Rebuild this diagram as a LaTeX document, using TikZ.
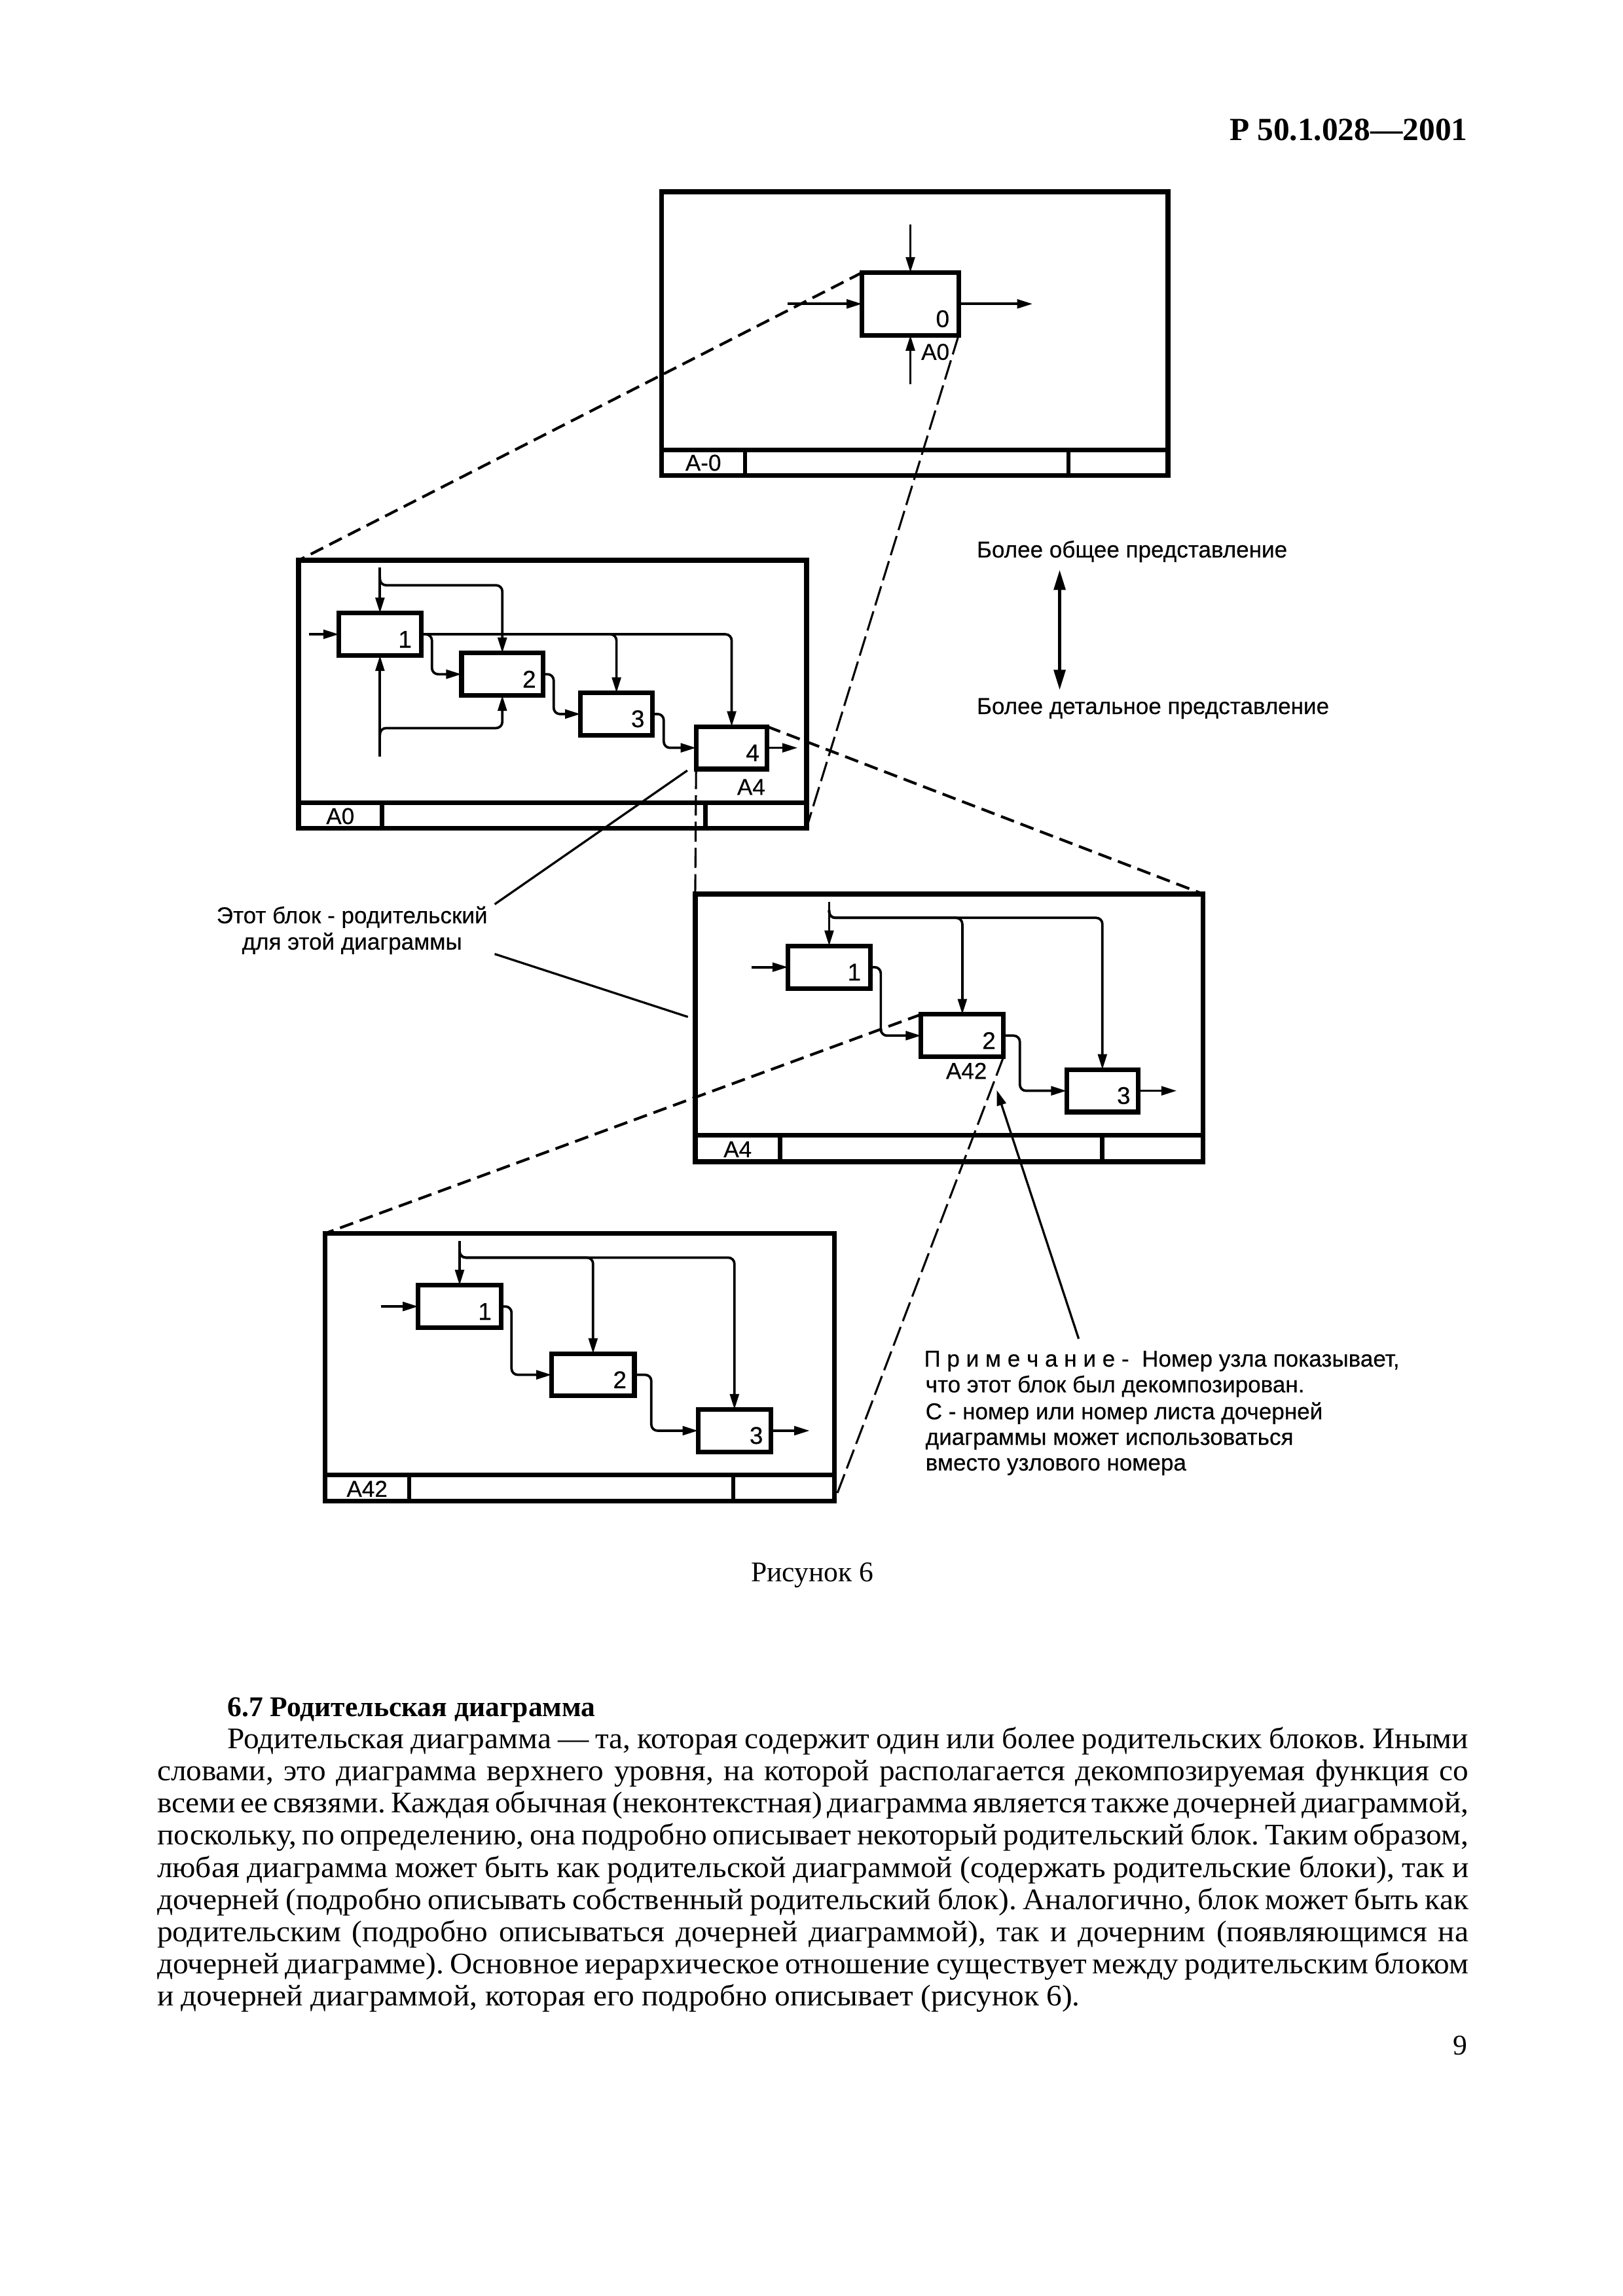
\documentclass[tikz,border=0pt]{standalone}
\usepackage{fontspec}
\setmainfont{Liberation Serif}
\setsansfont[FakeBold=0.4]{Liberation Sans}
\newfontfamily\bodyfont[FakeStretch=1.036]{Liberation Serif}
\usetikzlibrary{arrows.meta}
\newdimen\uu
\uu=0.18938mm
\begin{document}
\begin{tikzpicture}[x=0.18938mm,y=-0.18938mm,
 frm/.style={draw, line width=1.8pt, rectangle, inner sep=0, outer sep=0},
 strip/.style={line width=1.6pt},
 blk/.style={draw, line width=1.7pt, rectangle, inner sep=0, outer sep=0, minimum height=29\uu},
 thinln/.style={line width=0.9pt, rounded corners=0.8mm},
 arr/.style={thinln, -{Triangle[length=2.0mm,width=1.15mm]}},
 dshL/.style={line width=1.0pt, dash pattern=on 1.8mm off 0.9mm},
 dshR/.style={line width=0.75pt, dash pattern=on 2.6mm off 0.8mm},
 lead/.style={line width=0.8pt},
 dig/.style={font=\sffamily\fontsize{8.9}{10}\selectfont, inner sep=0},
 lab/.style={font=\sffamily\fontsize{8.45}{10}\selectfont, inner sep=0},
 sanstxt/.style={font=\sffamily\fontsize{8.45}{9.6}\selectfont, inner sep=0},
 ser/.style={font=\fontsize{10.5}{13}\selectfont, inner sep=0}
]
\useasboundingbox (0,0) rectangle (1108.9,1569.2);
\fill[white] (0,0) rectangle (1108.9,1569.2);

% header
\node[anchor=base east, inner sep=0, font=\bfseries\fontsize{11.9}{14}\selectfont] (hdr) at (1003,96) {Р 50.1.028—2001};

% ---------------- A-0 ----------------
\node[frm, minimum width=346\uu, minimum height=194\uu] (F0) at (625,228) {};
\draw[strip] (452,307.5) -- (798,307.5) (509,307.5) -- (509,325) (730,307.5) -- (730,325);
\node[lab] (F0l) at (480.5,316.3) {A-0};
\node[blk, minimum width=66\uu, minimum height=42.8\uu] (b0) at (622,207.7) {};
\node[dig, anchor=south east] (b0n) at ([shift={(-6,-5)}]b0.south east) {0};
\node[lab, anchor=north east] (b0r) at ([shift={(-6,5.5)}]b0.south east) {A0};
\coordinate (a0in) at (538,207.7);
\coordinate (a0out) at (705.5,207.7);
\coordinate (a0ctl) at (622,153.5);
\coordinate (a0mec) at (622,262.7);
\draw[arr] (a0in) -- (b0.west);
\draw[arr] (b0.east) -- (a0out);
\draw[arr] (a0ctl) -- (b0.north);
\draw[arr] (a0mec) -- (b0.south);

% ---------------- A0 ----------------
\node[frm, minimum width=347\uu, minimum height=183\uu] (F1) at (377.5,474.5) {};
\draw[strip] (204,548.5) -- (551,548.5) (261,548.5) -- (261,566) (482,548.5) -- (482,566);
\node[lab] (F1l) at (232.5,557.8) {A0};
\node[blk, minimum width=56.2\uu] (b1) at (259.6,433.5) {};
\node[blk, minimum width=55.7\uu] (b2) at (343.2,460.8) {};
\node[blk, minimum width=49.1\uu] (b3) at (421.2,488) {};
\node[blk, minimum width=48.6\uu] (b4) at (499.9,511.1) {};
\node[dig, anchor=south east] (b1n) at ([shift={(-6,-5)}]b1.south east) {1};
\node[dig, anchor=south east] (b2n) at ([shift={(-4.5,-5)}]b2.south east) {2};
\node[dig, anchor=south east] (b3n) at ([shift={(-5,-5)}]b3.south east) {3};
\node[dig, anchor=south east] (b4n) at ([shift={(-5,-5)}]b4.south east) {4};
\node[lab, anchor=north east] (b4r) at ([shift={(-1,6.5)}]b4.south east) {A4};
\coordinate (a1in) at (211.2,433.5);
\coordinate (a1ctl) at (259.6,388);
\coordinate (a1mec) at (259.6,517);
\draw[arr] (a1in) -- (b1.west);
\draw[arr] (a1ctl) -- (b1.north);
\draw[arr] (259.6,394) |- (343.2,400) -- (b2.north);
\draw[arr] (a1mec) -- (b1.south);
\draw[arr] (259.6,503) |- (343.2,497.6) -- (b2.south);
\draw[arr] (b1.east) -| (295.1,460.8) -- (b2.west);
\draw[arr] (b1.east) -| (b3.north);
\draw[arr] (b1.east) -| (b4.north);
\draw[arr] (b2.east) -| (378.3,488) -- (b3.west);
\draw[arr] (b3.east) -| (453.5,511.1) -- (b4.west);
\coordinate (a1out) at (545,511.1);
\draw[arr] (b4.east) -- (a1out);

% ---------------- A4 ----------------
\node[frm, minimum width=347\uu, minimum height=183\uu] (F2) at (648.5,702.5) {};
\draw[strip] (475,776) -- (822,776) (533,776) -- (533,794) (753,776) -- (753,794);
\node[lab] (F2l) at (504,785.5) {A4};
\node[blk, minimum width=56.3\uu] (c1) at (566.5,661) {};
\node[blk, minimum width=56.3\uu] (c2) at (657.5,707.8) {};
\node[blk, minimum width=49\uu] (c3) at (753.2,745.5) {};
\node[dig, anchor=south east] (c1n) at ([shift={(-6,-5)}]c1.south east) {1};
\node[dig, anchor=south east] (c2n) at ([shift={(-5,-5)}]c2.south east) {2};
\node[dig, anchor=south east] (c3n) at ([shift={(-5,-5)}]c3.south east) {3};
\node[lab, anchor=north east] (c2r) at ([shift={(-11,3.7)}]c2.south east) {A42};
\coordinate (a4in) at (513.3,661);
\coordinate (a4ctl) at (566.5,616.2);
\draw[arr] (a4in) -- (c1.west);
\draw[arr] (a4ctl) -- (c1.north);
\draw[arr] (566.5,622) |- (657.5,627.3) -- (c2.north);
\draw[arr] (566.5,622) |- (753.2,627.3) -- (c3.north);
\draw[arr] (c1.east) -| (601.8,707.8) -- (c2.west);
\draw[arr] (c2.east) -| (696.8,745.5) -- (c3.west);
\coordinate (a4out) at (804,745.5);
\draw[arr] (c3.east) -- (a4out);

% ---------------- A42 ----------------
\node[frm, minimum width=348\uu, minimum height=183\uu] (F3) at (396,934.5) {};
\draw[strip] (222,1008) -- (570,1008) (279.5,1008) -- (279.5,1026) (501,1008) -- (501,1026);
\node[lab] (F3l) at (250.8,1017.5) {A42};
\node[blk, minimum width=56.5\uu] (d1) at (314,892.9) {};
\node[blk, minimum width=56.5\uu] (d2) at (405.2,939.6) {};
\node[blk, minimum width=49.8\uu] (d3) at (501.8,977.8) {};
\node[dig, anchor=south east] (d1n) at ([shift={(-6,-5)}]d1.south east) {1};
\node[dig, anchor=south east] (d2n) at ([shift={(-5,-5)}]d2.south east) {2};
\node[dig, anchor=south east] (d3n) at ([shift={(-5,-5)}]d3.south east) {3};
\coordinate (a42in) at (260.2,892.9);
\coordinate (a42ctl) at (314,848.3);
\draw[arr] (a42in) -- (d1.west);
\draw[arr] (a42ctl) -- (d1.north);
\draw[arr] (314,854) |- (405.2,859.5) -- (d2.north);
\draw[arr] (314,854) |- (501.8,859.5) -- (d3.north);
\draw[arr] (d1.east) -| (349.5,939.6) -- (d2.west);
\draw[arr] (d2.east) -| (445,977.8) -- (d3.west);
\coordinate (a42out) at (553.2,977.8);
\draw[arr] (d3.east) -- (a42out);

% ---------------- decomposition dashed lines ----------------
\draw[dshL] (b0.north west) -- (F1.north west);
\draw[dshR] (b0.south east) -- (F1.south east);
\draw[dshL] (b4.north east) -- (F2.north east);
\draw[dshR] (b4.south west) -- (F2.north west);
\draw[dshL] (c2.north west) -- (F3.north west);
\draw[dshR] (c2.south east) -- (F3.south east);

% ---------------- general / detailed ----------------
\node[sanstxt, anchor=base west] (g1) at (667,381) {Более общее представление};
\node[sanstxt, anchor=base west] (g2) at (667,488) {Более детальное представление};
\coordinate (g1a) at (724,389.5);
\coordinate (g2a) at (724,471.5);
\draw[line width=1.0pt, {Triangle[length=2.6mm,width=1.5mm]}-{Triangle[length=2.6mm,width=1.5mm]}] (g1a) -- (g2a);

% ---------------- parent block label ----------------
\node[sanstxt, anchor=base] (t1a) at (240.5,631) {Этот блок - родительский};
\node[sanstxt, anchor=base] (t1b) at (240.5,649) {для этой диаграммы};
\coordinate (ld1a) at (338,618);
\coordinate (ld1b) at (469.6,526.6);
\coordinate (ld2a) at (338,652);
\coordinate (ld2b) at (470,695);
\draw[lead] (ld1a) -- (ld1b);
\draw[lead] (ld2a) -- (ld2b);

% ---------------- note ----------------
\node[sanstxt, anchor=base west] (n1) at (631,934) {П р и м е ч а н и е - \ Номер узла показывает,};
\node[sanstxt, anchor=base west] (n2) at (632,951.6) {что этот блок был декомпозирован.};
\node[sanstxt, anchor=base west] (n3) at (632,970) {С - номер или номер листа дочерней};
\node[sanstxt, anchor=base west] (n4) at (632,987.5) {диаграммы может использоваться};
\node[sanstxt, anchor=base west] (n5) at (632,1005) {вместо узлового номера};
\coordinate (nt) at (737,915);
\coordinate (nh) at (681,745);
\draw[lead, -{Triangle[length=2.0mm,width=1.2mm]}] (nt) -- (nh);

% ---------------- caption and text ----------------
\node[ser, anchor=base] (fig) at (555,1081) {Рисунок 6};
\node[anchor=base west, inner sep=0, font=\bfseries\fontsize{10.5}{13}\selectfont] (h67) at (155,1173.3) {6.7 Родительская диаграмма};
\node[anchor=base west, inner sep=0] (body) at (107,1195) {\parbox[t]{169.68mm}{\bodyfont\fontsize{11}{11.85}\selectfont\frenchspacing\spaceskip=0.25em plus 0.3em minus 0.12em\setlength{\parindent}{9.09mm}\hyphenpenalty=10000\tolerance=10000
Родительская диаграмма — та, которая содержит один или более родительских блоков. Иными\linebreak
словами, это диаграмма верхнего уровня, на которой располагается декомпозируемая функция со\linebreak
всеми ее связями. Каждая обычная (неконтекстная) диаграмма является также дочерней диаграммой,\linebreak
поскольку, по определению, она подробно описывает некоторый родительский блок. Таким образом,\linebreak
любая диаграмма может быть как родительской диаграммой (содержать родительские блоки), так и\linebreak
дочерней (подробно описывать собственный родительский блок). Аналогично, блок может быть как\linebreak
родительским (подробно описываться дочерней диаграммой), так и дочерним (появляющимся на\linebreak
дочерней диаграмме). Основное иерархическое отношение существует между родительским блоком\linebreak
и дочерней диаграммой, которая его подробно описывает (рисунок 6).}};
\node[ser, anchor=base east] (pg) at (1003,1404.5) {9};
\end{tikzpicture}
\end{document}
